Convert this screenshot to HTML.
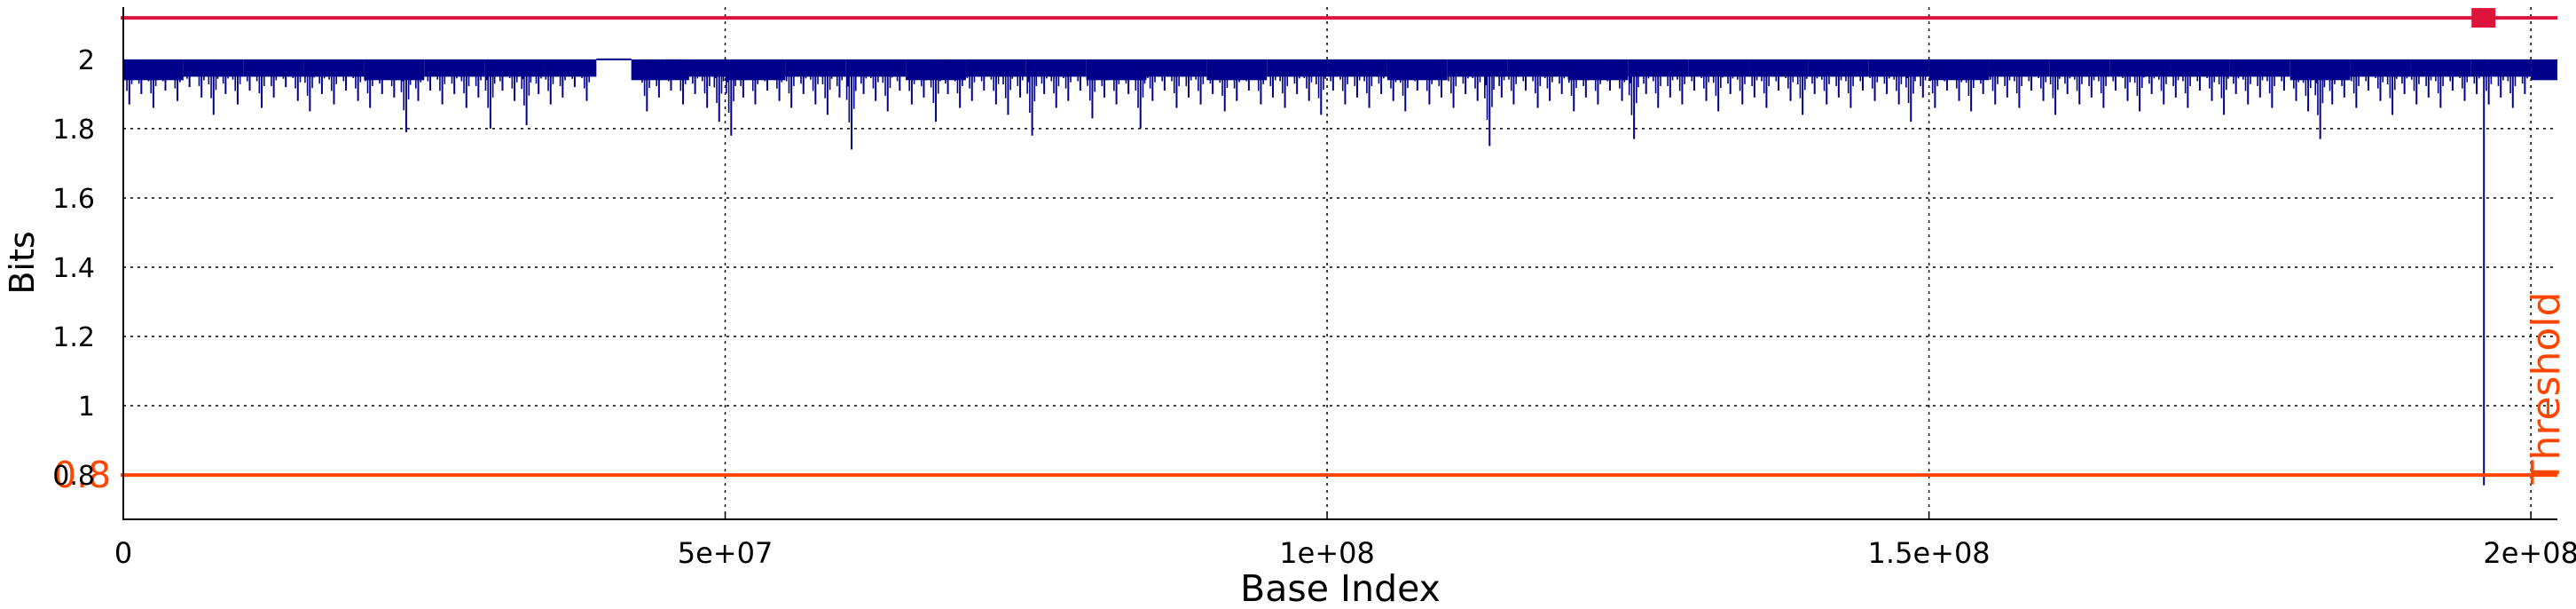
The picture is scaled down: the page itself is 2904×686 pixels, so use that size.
<!DOCTYPE html>
<html><head><meta charset="utf-8"><style>
html,body{margin:0;padding:0;background:#fff;width:2904px;height:686px;overflow:hidden}
svg{display:block}
text{font-family:"DejaVu Sans","Liberation Sans",sans-serif}
</style></head><body>
<svg id="chart" width="2904" height="686" viewBox="0 0 2904 686" xmlns="http://www.w3.org/2000/svg">
<g id="grid"></g>
<g id="series"></g>
<g id="lines"></g>
<g id="axes"></g>
<text x="0" y="0" font-size="38" text-anchor="middle" transform="translate(38,296) rotate(-90)">Bits</text>
<text x="1511" y="677" font-size="41" text-anchor="middle">Base Index</text>
<text x="0" y="0" font-size="44" fill="#ff4500" text-anchor="middle" transform="translate(2885,437) rotate(-90)">Threshold</text>
</svg>
<script>
const yTicks=[0.8,1.0,1.2,1.4,1.6,1.8,2.0];
const yTickLabels=["0.8","1","1.2","1.4","1.6","1.8","2"];
const xTicks=[0,5e7,1e8,1.5e8,2e8];
const xTickLabels=["0","5e+07","1e+08","1.5e+08","2e+08"];
const bucketSize=1e6;
const seriesTop=2.0;
const minValues=[1.87,1.90,1.86,1.91,1.88,1.92,1.89,1.84,1.90,1.87,1.91,1.86,1.89,1.92,1.88,1.85,1.90,1.87,1.91,1.88,1.86,1.90,1.89,1.79,1.88,1.91,1.87,1.90,1.86,1.89,1.80,1.91,1.88,1.81,1.90,1.87,1.89,1.92,1.88,2.0,2.0,2.0,2.0,1.85,1.89,1.91,1.87,1.90,1.86,1.82,1.78,1.89,1.87,1.91,1.88,1.86,1.90,1.87,1.84,1.89,1.74,1.90,1.88,1.85,1.91,1.87,1.89,1.82,1.90,1.86,1.88,1.91,1.87,1.84,1.89,1.78,1.90,1.86,1.88,1.91,1.83,1.89,1.87,1.90,1.80,1.88,1.91,1.86,1.89,1.87,1.90,1.85,1.88,1.91,1.87,1.89,1.86,1.90,1.88,1.84,1.91,1.87,1.89,1.86,1.90,1.88,1.85,1.91,1.87,1.89,1.86,1.90,1.88,1.75,1.89,1.87,1.91,1.86,1.88,1.90,1.85,1.89,1.87,1.91,1.88,1.77,1.90,1.86,1.89,1.87,1.91,1.88,1.85,1.90,1.87,1.89,1.86,1.91,1.88,1.84,1.90,1.87,1.89,1.86,1.91,1.88,1.90,1.87,1.82,1.89,1.86,1.91,1.88,1.85,1.90,1.87,1.89,1.86,1.91,1.88,1.84,1.90,1.87,1.89,1.86,1.91,1.88,1.85,1.90,1.87,1.89,1.86,1.91,1.88,1.84,1.90,1.87,1.89,1.86,1.91,1.88,1.85,1.77,1.87,1.89,1.86,1.91,1.88,1.84,1.90,1.87,1.89,1.86,1.91,1.88,1.90,1.87,1.89,1.86,1.90];
const bandStarts=[0,5e6,1e7,1.5e7,2e7,2.5e7,3e7,3.5e7,4.2e7,4.5e7,5e7,5.5e7,6e7,6.5e7,7e7,7.5e7,8e7,8.5e7,9e7,9.5e7,1e8,1.05e8,1.1e8,1.15e8,1.2e8,1.25e8,1.3e8,1.35e8,1.4e8,1.45e8,1.5e8,1.55e8,1.6e8,1.65e8,1.7e8,1.75e8,1.8e8,1.85e8,1.9e8,1.95e8,2.0e8];
const bandFloor=[1.94,1.95,1.95,1.95,1.94,1.95,1.95,1.95,1.94,1.95,1.94,1.95,1.95,1.94,1.95,1.95,1.94,1.95,1.94,1.95,1.95,1.94,1.95,1.95,1.94,1.95,1.95,1.95,1.95,1.95,1.94,1.95,1.95,1.95,1.95,1.95,1.94,1.95,1.95,1.95,1.94];
const gapStart=3.93e7, gapEnd=4.22e7;
const spikeX=[1.961e8];
const spikeMin=[0.77];
const redLineValue=2.12;
const markerX=[1.961e8];
const thresholdValue=0.8;
const xMin=0,xMax=2.022e8,yMin=0.672,yMax=2.151;
const L=139,R=2883,T=8,B=585;
const sx=v=>L+(v-xMin)/(xMax-xMin)*(R-L);
const sy=v=>B-(v-yMin)/(yMax-yMin)*(B-T);
const NS="http://www.w3.org/2000/svg";
function mk(tag,attrs,parent){const e=document.createElementNS(NS,tag);for(const k in attrs)e.setAttribute(k,attrs[k]);parent.appendChild(e);return e;}
const grid=document.getElementById('grid'),series=document.getElementById('series'),lines=document.getElementById('lines'),axes=document.getElementById('axes');
yTicks.forEach((v,i)=>{
  if(v<2.0){const g=mk('line',{x1:L,x2:R,y1:sy(v),y2:sy(v),stroke:'#000','stroke-width':1.5,'stroke-dasharray':'3,5'},grid);
  
  }
  const t=mk('text',{x:107,y:sy(v)+11,'font-size':30,'text-anchor':'end'},axes);t.textContent=yTickLabels[i];
  
  
});
xTicks.forEach((v,i)=>{
  if(v>0){const g=mk('line',{x1:sx(v),x2:sx(v),y1:T,y2:B,stroke:'#000','stroke-width':1.5,'stroke-dasharray':'3,5'},grid);
  
  }
  const t=mk('text',{x:sx(v),y:634,'font-size':32,'text-anchor':'middle'},axes);t.textContent=xTickLabels[i];
  
  
});
bandStarts.forEach((x,i)=>{
  const a=Math.max(x,xMin),b=Math.min(x+5e6,xMax);
  if(b<=a)return;
  [[a,Math.min(b,gapStart)],[Math.max(a,gapEnd),b]].forEach(([p,q])=>{if(q<=p)return;
    const r=mk('rect',{x:sx(p),y:sy(seriesTop),width:sx(q)-sx(p),height:sy(bandFloor[i])-sy(seriesTop),fill:'#00008b'},series);
    
    });
});
mk('line',{x1:sx(gapStart),x2:sx(gapEnd),y1:sy(seriesTop),y2:sy(seriesTop),stroke:'#00008b','stroke-width':2},series);
const fracs=[[0.5,1.0],[0.1,0.45],[0.3,0.7],[0.7,0.55],[0.85,0.35],[0.2,0.3]];
minValues.forEach((v,i)=>{
  if(v>=seriesTop)return;
  fracs.forEach(([off,depth],k)=>{
    const x=sx(i*bucketSize+bucketSize*off);
    const l=mk('line',{x1:x,x2:x,y1:sy(seriesTop),y2:sy(seriesTop-(seriesTop-v)*depth),stroke:'#00008b','stroke-width':k==0?2:1.6},series);
    
    
  });
});
spikeX.forEach((x,i)=>{
  const l=mk('line',{x1:sx(x),x2:sx(x),y1:sy(seriesTop),y2:sy(spikeMin[i]),stroke:'#00008b','stroke-width':2},series);
  
  
});
const red=mk('line',{x1:L-3,x2:R,y1:sy(redLineValue),y2:sy(redLineValue),stroke:'#dc143c','stroke-width':4},lines);


markerX.forEach(x=>{
  const m=mk('rect',{x:sx(x)-14,y:sy(redLineValue)-11,width:27,height:22,fill:'#dc143c'},lines);
  
  
});
const th=mk('line',{x1:L-3,x2:R,y1:sy(thresholdValue),y2:sy(thresholdValue),stroke:'#ff4500','stroke-width':4},lines);


const tl=mk('text',{x:60,y:sy(thresholdValue)+14,'font-size':41,'text-anchor':'start',fill:'#ff4500'},lines);
tl.textContent='0.8';


const frame=mk('path',{d:`M${L},${T} L${L},${B} L${R},${B}`,fill:'none',stroke:'#000','stroke-width':2},axes);


xTicks.forEach(v=>{mk('line',{x1:sx(v),x2:sx(v),y1:B,y2:B-8,stroke:'#000','stroke-width':1.5},axes);});
</script>
</body></html>
